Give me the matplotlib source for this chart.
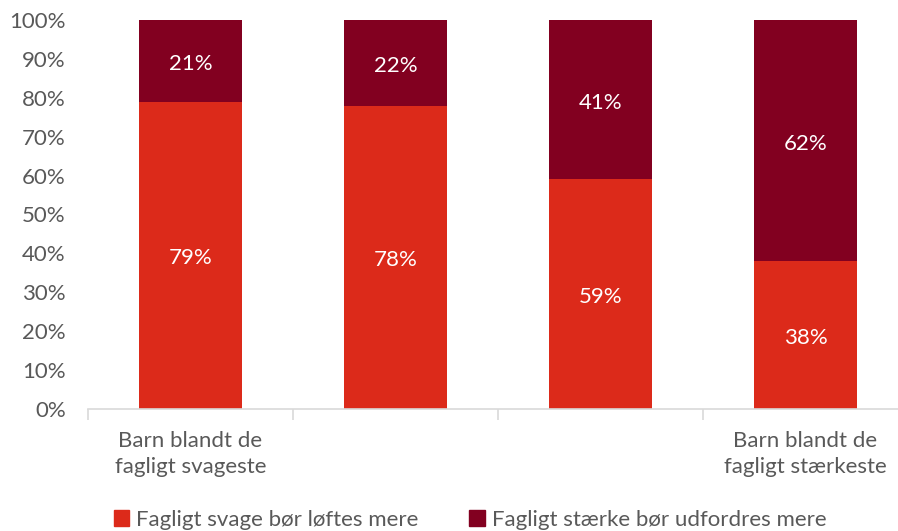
import matplotlib
matplotlib.use("Agg")
import matplotlib.pyplot as plt
from matplotlib.patches import Patch
from matplotlib.ticker import FixedLocator, PercentFormatter
import matplotlib.transforms as mtransforms
import numpy as np

categories = ["Barn blandt de\nfagligt svageste", "", "", "Barn blandt de\nfagligt stærkeste"]
svage = [79, 78, 59, 38]
staerke = [21, 22, 41, 62]
series_names = ["Fagligt svage bør løftes mere", "Fagligt stærke bør udfordres mere"]
yticks = [0, 10, 20, 30, 40, 50, 60, 70, 80, 90, 100]

red = "#DC2A1A"
dark = "#820020"
txt = "#595959"
plt.rcParams['font.family'] = ['Lato', 'DejaVu Sans']
FS = 16

W, H = 898, 531
fig = plt.figure(figsize=(W/100, H/100), dpi=100)
ax = fig.add_axes([88/W, 1-409/H, 820/W, 389/H])

x = np.arange(len(categories))
ax.bar(x, svage, width=0.5, color=red, zorder=2)
ax.bar(x, staerke, bottom=svage, width=0.5, color=dark, zorder=2)

off = mtransforms.offset_copy(ax.transData, fig=fig, x=0, y=-3, units="dots")
for i in range(len(x)):
    ax.text(x[i], svage[i]/2, f"{svage[i]}%", ha="center", va="center", color="white", fontsize=FS, transform=off)
    ax.text(x[i], svage[i] + staerke[i]/2, f"{staerke[i]}%", ha="center", va="center", color="white", fontsize=FS, transform=off)

ax.set_xlim(-0.5, len(categories)-0.5)
ax.set_ylim(0, 100)
ax.set_yticks(yticks)
ax.yaxis.set_major_formatter(PercentFormatter(decimals=0))
ax.tick_params(axis="y", length=0, labelsize=FS, labelcolor=txt, pad=16)
ax.set_xticks(x)
ax.set_xticklabels(categories, fontsize=FS, color=txt, linespacing=1.35)
ax.tick_params(axis="x", length=0, pad=16)
ax.xaxis.set_minor_locator(FixedLocator(np.arange(-0.5, len(categories), 1.0)))
ax.tick_params(axis="x", which="minor", length=8, color="#d9d9d9", width=1.2)
for s in ["top", "right", "left"]:
    ax.spines[s].set_visible(False)
ax.spines["bottom"].set_color("#d9d9d9")
ax.spines["bottom"].set_linewidth(1.2)

handles = [Patch(color=red), Patch(color=dark)]
fig.legend(handles, series_names, loc="center", bbox_to_anchor=(470/W, 1-520/H),
           ncol=2, frameon=False, fontsize=FS, labelcolor=txt,
           handlelength=0.7, handleheight=0.7, handletextpad=0.3, columnspacing=2.3)

fig.savefig("out.png", dpi=100)
